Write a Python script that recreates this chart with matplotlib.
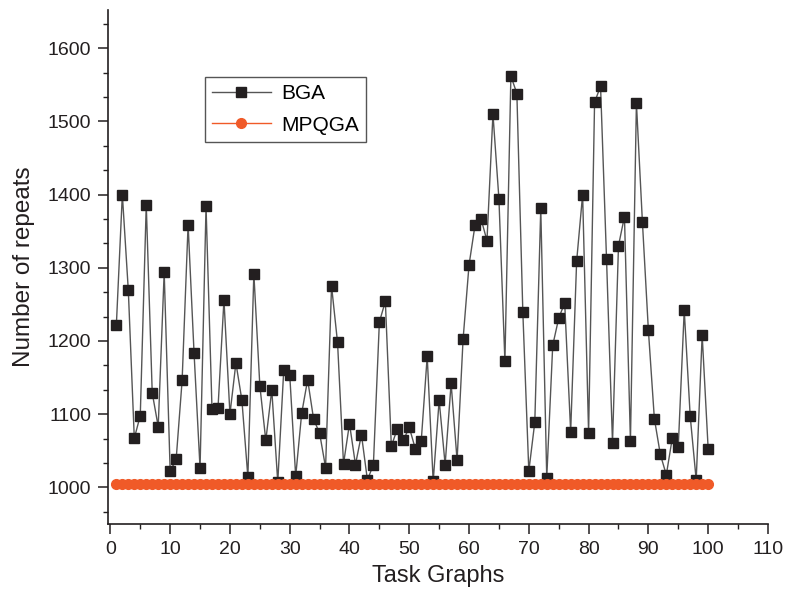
import matplotlib
matplotlib.use("Agg")
import matplotlib.pyplot as plt
from matplotlib.ticker import MultipleLocator, AutoMinorLocator
import numpy as np

# Task graph indices
task_graphs = np.arange(1, 101)

# Number of repeats
bga = [1222, 1400, 1269, 1067, 1098, 1386, 1129, 1083, 1294, 1022,
       1038, 1146, 1359, 1183, 1026, 1384, 1107, 1108, 1256, 1100,
       1170, 1119, 1014, 1292, 1139, 1064, 1133, 1007, 1160, 1154,
       1015, 1101, 1147, 1093, 1074, 1027, 1275, 1198, 1032, 1087,
       1031, 1072, 1010, 1031, 1226, 1254, 1056, 1080, 1064, 1082,
       1053, 1063, 1179, 1008, 1119, 1031, 1142, 1037, 1202, 1304,
       1358, 1367, 1337, 1510, 1394, 1172, 1562, 1538, 1239, 1022,
       1089, 1381, 1013, 1194, 1231, 1252, 1076, 1309, 1400, 1074,
       1526, 1548, 1312, 1061, 1330, 1370, 1063, 1525, 1363, 1215,
       1094, 1045, 1017, 1067, 1055, 1242, 1097, 1010, 1208, 1053]
mpqga = [1004] * 100

plt.rcParams['font.family'] = ['Liberation Sans', 'DejaVu Sans']

fig = plt.figure(figsize=(7.86, 5.94), dpi=100)
ax = fig.add_axes([0.1374, 0.118, 0.8396, 0.865])

ax.plot(task_graphs, bga, color='#555555', linewidth=1.0, marker='s',
        markersize=6.5, markerfacecolor='#231f20', markeredgecolor='#231f20',
        label='BGA', zorder=2)
ax.plot(task_graphs, mpqga, color='#f05a28', linewidth=1.0, marker='o',
        markersize=7, markerfacecolor='#f05a28', markeredgecolor='#f05a28',
        label='MPQGA', zorder=3)

ax.set_xlim(-0.4, 110)
ax.set_ylim(950, 1652)
ax.xaxis.set_major_locator(MultipleLocator(10))
ax.xaxis.set_minor_locator(AutoMinorLocator(2))
ax.yaxis.set_major_locator(MultipleLocator(100))
ax.yaxis.set_minor_locator(AutoMinorLocator(3))

for side in ['top', 'right']:
    ax.spines[side].set_visible(False)
for side in ['left', 'bottom']:
    ax.spines[side].set_linewidth(1.2)
    ax.spines[side].set_color('#231f20')

ax.tick_params(which='major', direction='out', length=7, width=1.1, pad=5,
               labelsize=14, colors='#231f20')
ax.tick_params(which='minor', direction='out', length=3.6, width=1.0,
               colors='#231f20')

ax.set_xlabel('Task Graphs', fontsize=17, color='#231f20', labelpad=5)
ax.set_ylabel('Number of repeats', fontsize=17.5, color='#231f20', labelpad=9)

leg = ax.legend(loc='upper left', bbox_to_anchor=(0.147, 0.870), borderaxespad=0,
                fancybox=False, edgecolor='#555555', framealpha=1, borderpad=0.35,
                handlelength=2.8, handletextpad=0.5, labelspacing=0.6,
                prop={'size': 15})
leg.get_frame().set_linewidth(1.0)

plt.savefig('out.png', dpi=100)
